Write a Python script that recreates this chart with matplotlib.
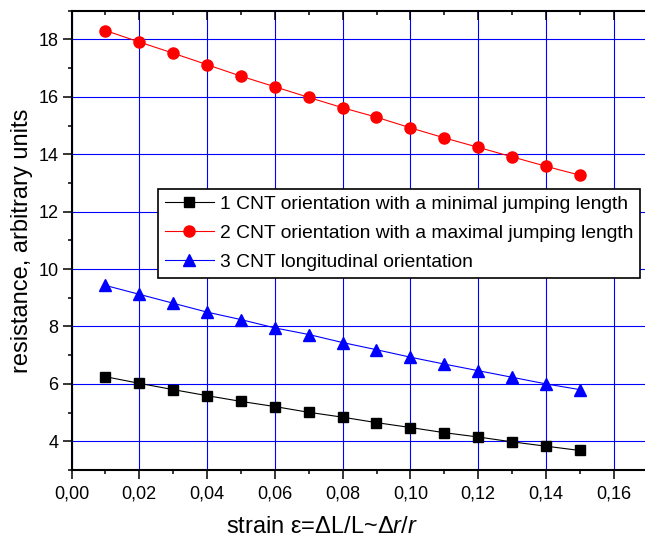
import matplotlib
matplotlib.use("Agg")
import matplotlib.pyplot as plt
from matplotlib.ticker import MultipleLocator, FuncFormatter

plt.rcParams['font.family'] = ['Liberation Sans', 'DejaVu Sans']
plt.rcParams['mathtext.fontset'] = 'custom'
plt.rcParams['mathtext.rm'] = 'Liberation Sans'
plt.rcParams['mathtext.it'] = 'Liberation Sans:italic'

# data
strain = [0.01, 0.02, 0.03, 0.04, 0.05, 0.06, 0.07, 0.08,
          0.09, 0.10, 0.11, 0.12, 0.13, 0.14, 0.15]
r_min_jump = [6.25, 6.02, 5.80, 5.59, 5.39, 5.21, 5.01, 4.84,
              4.65, 4.48, 4.30, 4.15, 3.98, 3.83, 3.68]
r_max_jump = [18.31, 17.91, 17.52, 17.12, 16.72, 16.35, 15.98, 15.62,
              15.29, 14.92, 14.57, 14.24, 13.91, 13.58, 13.27]
r_longit = [9.43, 9.12, 8.81, 8.50, 8.24, 7.95, 7.72, 7.44,
            7.19, 6.93, 6.69, 6.46, 6.23, 6.00, 5.80]
labels = ["1 CNT orientation with a minimal jumping length",
          "2 CNT orientation with a maximal jumping length",
          "3 CNT longitudinal orientation"]

fig = plt.figure(figsize=(6.45, 5.42), dpi=100)
# axes run past the right edge of the picture, as in the original
ax = fig.add_axes([71.5 / 645, 72 / 542, 610 / 645, 459.3 / 542])

ax.plot(strain, r_min_jump, color='black', lw=0.8, marker='s', ms=7.5,
        label=labels[0], zorder=3)
ax.plot(strain, r_max_jump, color='red', lw=0.8, marker='o', ms=8,
        label=labels[1], zorder=3)
ax.plot(strain, r_longit, color='blue', lw=0.8, marker='^', ms=9,
        label=labels[2], zorder=3)

ax.set_xlim(0, 0.18)
ax.set_ylim(3, 19)
ax.xaxis.set_major_locator(MultipleLocator(0.02))
ax.xaxis.set_minor_locator(MultipleLocator(0.01))
ax.yaxis.set_major_locator(MultipleLocator(2))
ax.yaxis.set_minor_locator(MultipleLocator(1))
# the 0,18 label would fall outside the picture
ax.xaxis.set_major_formatter(FuncFormatter(
    lambda v, p: f"{v:.2f}".replace('.', ',') if v < 0.165 else ""))

ax.grid(True, which='major', color='#0000ff', lw=0.8)
ax.set_axisbelow(True)

for s in ['left', 'bottom', 'top']:
    ax.spines[s].set_linewidth(1.5)
ax.tick_params(axis='both', which='major', direction='out', length=6.5,
               width=1.1, labelsize=13, pad=5)
ax.tick_params(axis='both', which='minor', direction='out', length=3.2, width=1.1)
ax.tick_params(axis='x', top=True, which='both')
ax.tick_params(axis='y', pad=3)
for t in ax.xaxis.get_ticklines(minor=False)[1::2] + ax.xaxis.get_ticklines(minor=True)[1::2]:
    t.set_marker(3)  # top ticks point inward

ax.set_ylabel("resistance, arbitrary units", fontsize=17)
ax.set_xlabel(r"strain ε=ΔL/L~Δ$\it{r}$/$\it{r}$", fontsize=17)
ax.xaxis.set_label_coords((322 - 71.5) / 610, -0.1)

leg = ax.legend(loc='upper left', bbox_to_anchor=((158 - 71.5) / 610, (470 - 189) / 459.3),
                borderaxespad=0, fontsize=13.85, fancybox=False, framealpha=1,
                edgecolor='black', handlelength=2.55, handletextpad=0.3,
                labelspacing=0.6, borderpad=0.35)
leg.get_frame().set_linewidth(1.2)

fig.savefig("out.png", dpi=100)
